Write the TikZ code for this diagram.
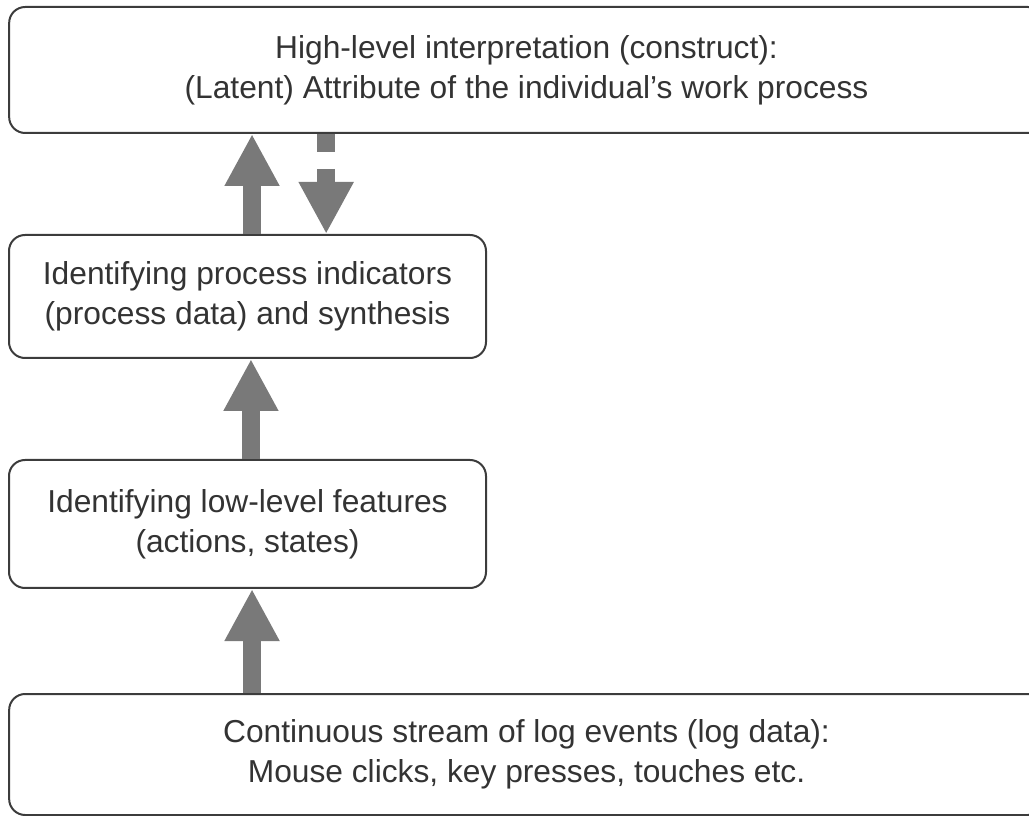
\documentclass[tikz,border=0pt]{standalone}
\usepackage{fontspec}
\setmainfont{Liberation Sans}
\usetikzlibrary{arrows.meta}
\definecolor{boxline}{HTML}{3C3C3C}
\definecolor{boxtext}{HTML}{333333}
\definecolor{arrowgray}{HTML}{797979}
\begin{document}
\begin{tikzpicture}[x=0.75pt,y=-0.75pt,
  box/.style={draw=boxline,line width=1.5pt,rounded corners=12pt,inner sep=0pt,
    align=center,text=boxtext,font=\fontsize{23.8}{29.8}\selectfont},
  fat/.style={draw=arrowgray,line width=13.5pt,
    -{Triangle[width=38.5pt,length=39pt,fill=arrowgray]}}]

\useasboundingbox (0,0) rectangle (1029,816);

\node(top) at (526.5,70) [box,minimum width=776pt,minimum height=94.5pt]
  {High-level interpretation (construct):\\(Latent) Attribute of the individual’s work process};
\node(ind) at (247.5,296.5) [box,minimum width=357.75pt,minimum height=92.25pt]
  {Identifying process indicators\\(process data) and synthesis};
\node(feat) at (247.5,524) [box,minimum width=357.75pt,minimum height=96pt]
  {Identifying low-level features\\(actions, states)};
\node(log) at (526.5,754.5) [box,minimum width=776pt,minimum height=90.75pt]
  {Continuous stream of log events (log data):\\Mouse clicks, key presses, touches etc.};

\draw[fat] ([xshift=3.4pt]ind.north) -- ([xshift=3.4pt]ind.north |- top.south);
\draw[fat,dash pattern=on 13.5pt off 12.75pt] ([xshift=59pt]ind.north |- top.south) -- ([xshift=59pt]ind.north);
\draw[fat] ([xshift=2.6pt]feat.north) -- ([xshift=2.6pt]ind.south);
\draw[fat] ([xshift=3.4pt]feat.north |- log.north) -- ([xshift=3.4pt]feat.south);

\end{tikzpicture}
\end{document}
